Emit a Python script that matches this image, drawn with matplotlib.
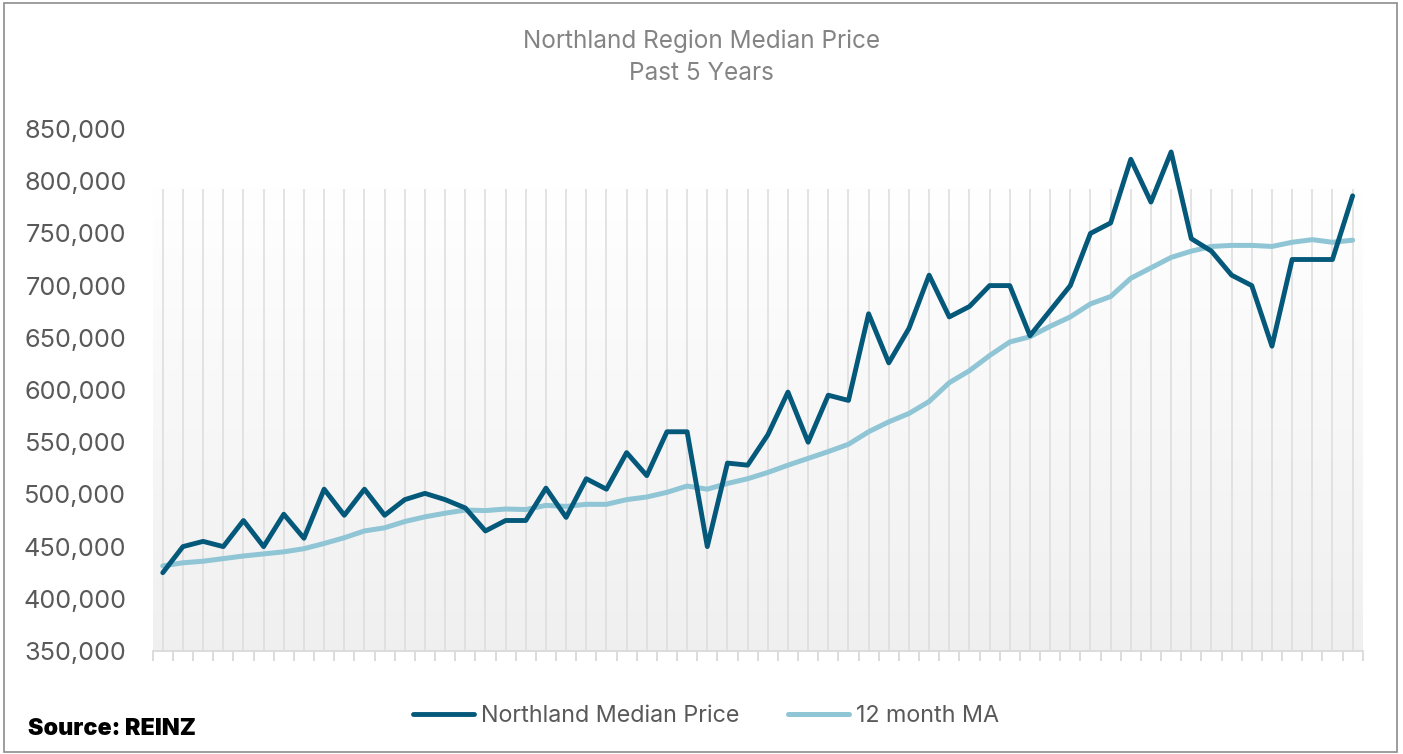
import numpy as np
import matplotlib
matplotlib.use("Agg")
import matplotlib.pyplot as plt
from matplotlib.patches import Rectangle
from matplotlib.lines import Line2D

# ---- data ----
median_price = [425000, 450000, 455000, 450000, 475000, 450000, 481000, 458000, 505000, 480000,
                505000, 480000, 495000, 501000, 495000, 487000, 465000, 475000, 475000, 506000,
                478000, 515000, 505000, 540000, 518000, 560000, 560000, 450000, 530000, 528000,
                557000, 598000, 550000, 595000, 590000, 673000, 626000, 659000, 710000, 670000,
                680000, 700000, 700000, 652000, 676000, 700000, 750000, 760000, 821000, 780000,
                828000, 745000, 733000, 710000, 700000, 642000, 725000, 725000, 725000, 786000]
ma_12 = [431500, 434500, 436000, 438500, 441000, 443000, 445000, 448000, 453000, 458500,
         465000, 468000, 474000, 478500, 482000, 485000, 484500, 486000, 485500, 489500,
         488500, 490500, 490500, 495000, 497500, 502000, 508000, 505000, 510500, 515000,
         521000, 528000, 534500, 541000, 548000, 560000, 569500, 577500, 589000, 607000,
         618500, 633000, 646000, 651000, 661000, 670000, 682500, 689500, 707000, 717000,
         727000, 733000, 737500, 738500, 738500, 737500, 741500, 744000, 741500, 743500]
y_ticks = [350000, 400000, 450000, 500000, 550000, 600000, 650000, 700000, 750000, 800000, 850000]
title_lines = ["Northland Region Median Price", "Past 5 Years"]
series_names = ["Northland Median Price", "12 month MA"]
band_top = 793000

dark = "#04587a"
light = "#8fc5d5"
grid_c = "#dcdcdc"

plt.rcParams['font.family'] = ['Inter', 'DejaVu Sans']

W, H = 1403, 754
fig = plt.figure(figsize=(W / 100, H / 100), dpi=100)
fig.patch.set_facecolor("white")

ax_l, ax_r, ax_t, ax_b = 152.7, 1362.7, 129, 651
ax = fig.add_axes([ax_l / W, 1 - ax_b / H, (ax_r - ax_l) / W, (ax_b - ax_t) / H])
ax.set_facecolor("none")

n = len(median_price)
x = np.arange(n)
ax.set_xlim(-0.5, n - 0.5)
ax.set_ylim(y_ticks[0], y_ticks[-1])

# gradient background band
grad = np.linspace(0.94, 1.0, 256).reshape(-1, 1)
ax.imshow(np.dstack([grad, grad, grad]), extent=[-0.5, n - 0.5, y_ticks[0], band_top],
          origin="lower", aspect="auto", zorder=0, interpolation="bicubic")

# vertical drop lines
ax.vlines(x, y_ticks[0], band_top, color=grid_c, lw=1.1, zorder=1)

ax.plot(x, median_price, color=dark, lw=3.5, solid_joinstyle="round", solid_capstyle="round", zorder=4)
ax.plot(x, ma_12, color=light, lw=3.6, solid_joinstyle="round", solid_capstyle="round", zorder=3)

for s in ["top", "right", "left"]:
    ax.spines[s].set_visible(False)
ax.spines["bottom"].set_color(grid_c)
ax.spines["bottom"].set_linewidth(1.4)

ax.set_xticks(np.arange(-0.5, n, 1.0))
ax.set_xticklabels([])
ax.tick_params(axis="x", length=7, width=1.4, color=grid_c, direction="out")
ax.set_yticks(y_ticks)
ax.set_yticklabels([f"{v:,}" for v in y_ticks])
ax.tick_params(axis="y", length=0, pad=19, labelsize=18.2, labelcolor="#595959")

fig.text(0.5 * W / W, 1 - 41 / H, title_lines[0], ha="center", va="center", fontsize=17.5,
         color="#848484")
fig.text(0.5 * W / W, 1 - 74 / H, title_lines[1], ha="center", va="center", fontsize=17.5,
         color="#848484")

handles = [Line2D([0], [0], color=dark, lw=3.5, solid_capstyle="round"),
           Line2D([0], [0], color=light, lw=3.6, solid_capstyle="round")]
leg = fig.legend(handles, series_names, loc="center", bbox_to_anchor=(706 / W, 1 - 716 / H),
                 ncol=2, frameon=False, fontsize=16.8, handlelength=2.6, handletextpad=0.3,
                 columnspacing=2.1)
for t in leg.get_texts():
    t.set_color("#595959")

fig.text(28 / W, 1 - 729 / H, "Source: REINZ", ha="left", va="center", fontsize=16.8,
         fontweight="black", color="black")

fig.patches.append(Rectangle((4 / W, 2 / H), (1396.5 - 4) / W, (751 - 2) / H,
                             transform=fig.transFigure, fill=False, edgecolor="#8c8c8c", lw=1.2))

fig.savefig("out.png", dpi=100)
